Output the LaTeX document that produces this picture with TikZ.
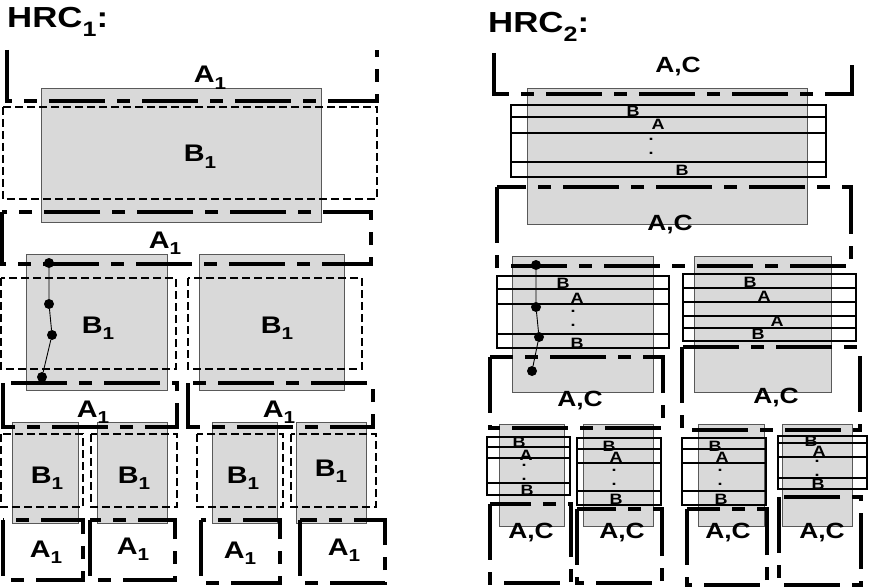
\documentclass[tikz,border=0pt]{standalone}
\usepackage{fontspec}
\setmainfont{Liberation Sans}[FakeStretch=1.2]
\usepackage{graphicx}
\usepackage{tikz}
\newcommand{\lowidx}[1]{\raisebox{-0.28em}{\scalebox{0.72}{#1}}}

\begin{document}
\begin{tikzpicture}[x=1pt, y=-1pt,
    blk/.style={fill=black!15, draw=black!65, line width=0.9pt},
    aregion/.style={line width=3.2pt, dash pattern=on 56pt off 12pt on 13pt off 12pt},
    bregion/.style={line width=2.6pt, dash pattern=on 8pt off 4pt},
    band/.style={line width=1.9pt},
    title/.style={font=\bfseries\fontsize{29}{29}\selectfont, anchor=base west, inner sep=0pt},
    biglbl/.style={font=\bfseries\fontsize{24}{24}\selectfont, anchor=base, inner sep=0pt},
    aclbl/.style={font=\bfseries\fontsize{22}{22}\selectfont, anchor=base, inner sep=0pt},
    smalllbl/.style={font=\bfseries\fontsize{15}{15}\selectfont, anchor=base, inner sep=0pt},
    vdotlbl/.style={font=\bfseries\fontsize{15}{14}\selectfont, align=center, inner sep=0pt},
    dot/.style={circle, fill=black, inner sep=0pt, minimum size=10pt},
    link/.style={line width=0.9pt}
]
    \useasboundingbox (0,0) rectangle (870,588);

    % gray blocks
    \foreach \l/\t/\r/\b in {41/88/321/222, 26/254/167/390, 199/254/344/390,
        12/422/78/523, 97/422/167/523, 212/422/277/523, 296/422/366/523,
        527/88/807/224, 512/256/653/392, 694/256/831/392,
        499/424/564/526, 583/424/653/526, 698/424/764/526, 782/424/852/526}
        \draw[blk] (\l,\t) rectangle (\r,\b);

    % HRC_1
    \node[title] (hrc1) at (7,28) {HRC\lowidx{1}:};
    \draw[aregion] (7,50) |- (377,101) -- (377,50);
    \foreach \l/\t/\r/\b in {2/212/371/264, 3/383/177/427, 188/383/373/427,
        3/520/83/580, 90/520/175/580, 201/520/280/583, 300/520/385/583}
        \draw[aregion] (\l,\t) rectangle (\r,\b);
    \foreach \l/\t/\r/\b in {3/107/377/199, 1/278/176/369, 188/278/362/369,
        1/434/83/507, 91/434/177/507, 197/434/283/507, 291/434/376/507}
        \draw[bregion] (\l,\t) rectangle (\r,\b);

    \node[biglbl] (a1) at (210,83) {A\lowidx{1}};
    \node[biglbl] (b1) at (200,162) {B\lowidx{1}};
    \node[biglbl] (a2) at (165,248) {A\lowidx{1}};
    \node[biglbl] (b2) at (98,333) {B\lowidx{1}};
    \node[biglbl] (b3) at (277,333) {B\lowidx{1}};
    \node[biglbl] (a3) at (93,417) {A\lowidx{1}};
    \node[biglbl] (a4) at (279,417) {A\lowidx{1}};
    \node[biglbl] (b4) at (47,483) {B\lowidx{1}};
    \node[biglbl] (b5) at (134,483) {B\lowidx{1}};
    \node[biglbl] (b6) at (243,483) {B\lowidx{1}};
    \node[biglbl] (b7) at (331,476) {B\lowidx{1}};
    \node[biglbl] (a5) at (46,557) {A\lowidx{1}};
    \node[biglbl] (a6) at (133,554) {A\lowidx{1}};
    \node[biglbl] (a7) at (240,558) {A\lowidx{1}};
    \node[biglbl] (a8) at (344,555) {A\lowidx{1}};

    \node[dot] (p1) at (49,263) {};
    \node[dot] (p2) at (49,304) {};
    \node[dot] (p3) at (52,335) {};
    \node[dot] (p4) at (42,377) {};
    \draw[link] (p1) -- (p2) -- (p3) -- (p4);

    % HRC_2
    \node[title] (hrc2) at (488,33) {HRC\lowidx{2}:};
    \draw[aregion] (494,53) |- (852,94) -- (852,63);
    \foreach \l/\t/\r/\b in {497/187/851/266, 490/357/663/428, 682/347/860/430,
        490/504/571/583, 577/509/662/583, 687/509/767/585, 779/497/861/585}
        \draw[aregion] (\l,\t) rectangle (\r,\b);
    \foreach \l/\t/\r/\b/\ys in {511/105/826/177/{117,133,162},
        497/276/669/348/{289,304,334}, 683/274/856/341/{288,302,316,328},
        487/437/570/495/{447,458,483}, 577/438/661/505/{449,463,491},
        682/438/766/505/{449,463,491}, 778/436/867/489/{443,457,478}} {
        \draw[band] (\l,\t) rectangle (\r,\b);
        \foreach \y in \ys
            \draw[band] (\l,\y) -- (\r,\y);
    }

    \node[aclbl] (c1) at (678,73) {A,C};
    \node[aclbl] (c2) at (670,231) {A,C};
    \node[aclbl] (c3) at (580,406) {A,C};
    \node[aclbl] (c4) at (776,403) {A,C};
    \node[aclbl] (c5) at (531,538) {A,C};
    \node[aclbl] (c6) at (622,538) {A,C};
    \node[aclbl] (c7) at (728,538) {A,C};
    \node[aclbl] (c8) at (822,538) {A,C};

    \node[smalllbl] (s1b) at (633,117) {B};
    \node[smalllbl] (s1a) at (658,130) {A};
    \node[vdotlbl] (s1d) at (651,146) {.\\.};
    \node[smalllbl] (s1c) at (682,176) {B};
    \node[smalllbl] (s2b) at (563,288) {B};
    \node[smalllbl] (s2a) at (577,303) {A};
    \node[vdotlbl] (s2d) at (573,318) {.\\.};
    \node[smalllbl] (s2c) at (577,348) {B};
    \node[smalllbl] (s3b) at (750,287) {B};
    \node[smalllbl] (s3a) at (764,301) {A};
    \node[smalllbl] (s3e) at (777,326) {A};
    \node[smalllbl] (s3c) at (758,339) {B};
    \node[smalllbl] (s4b) at (519,447) {B};
    \node[smalllbl] (s4a) at (526,460) {A};
    \node[vdotlbl] (s4d) at (524,472) {.\\.};
    \node[smalllbl] (s4c) at (527,495) {B};
    \node[smalllbl] (s5b) at (609,451) {B};
    \node[smalllbl] (s5a) at (616,462) {A};
    \node[vdotlbl] (s5d) at (614,477) {.\\.};
    \node[smalllbl] (s5c) at (616,504) {B};
    \node[smalllbl] (s6b) at (715,451) {B};
    \node[smalllbl] (s6a) at (722,462) {A};
    \node[vdotlbl] (s6d) at (720,477) {.\\.};
    \node[smalllbl] (s6c) at (721,504) {B};
    \node[smalllbl] (s7b) at (811,446) {B};
    \node[smalllbl] (s7a) at (819,456) {A};
    \node[vdotlbl] (s7d) at (817,468) {.\\.};
    \node[smalllbl] (s7c) at (818,489) {B};

    \node[dot] (q1) at (536,265) {};
    \node[dot] (q2) at (536,307) {};
    \node[dot] (q3) at (539,337) {};
    \node[dot] (q4) at (532,371) {};
    \draw[link] (q1) -- (q2) -- (q3) -- (q4);
\end{tikzpicture}
\end{document}
